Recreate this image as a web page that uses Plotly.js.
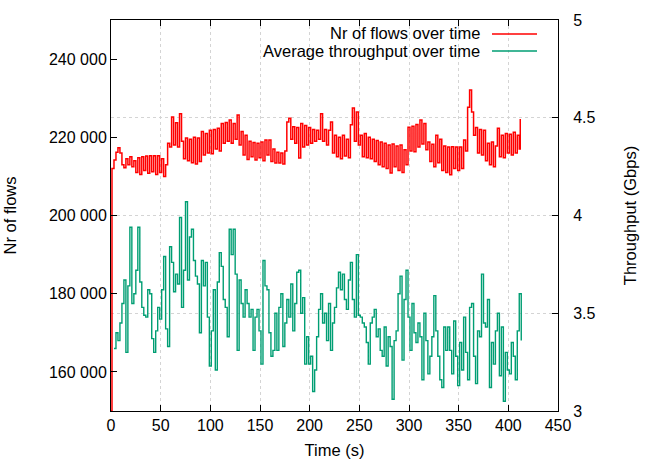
<!DOCTYPE html>
<html>
<head>
<meta charset="utf-8">
<script src="https://cdn.plot.ly/plotly-3.0.1.min.js"></script>
<style>html,body{margin:0;padding:0;background:#fff;}#chart{width:664px;height:465px;}</style>
</head>
<body>
<div id="chart"></div>
<script>
// Nr of flows: first sample at t=0, then one sample every 2 s from t=1 to t=411, last sample at t=412
const flowsStart = 150000;
const flows = [
212000,214200,216200,217300,216000,213000,212200,214500,213000,215000,
212500,214000,211000,214800,210500,215000,211500,215200,210800,215300,
211200,215300,210500,215300,211000,214500,210000,213000,218500,217500,
225200,218000,223700,217500,226000,219000,214500,219800,214000,219500,
213500,220000,213200,219800,213800,221500,215500,221000,216000,221800,
215800,222000,217000,222300,216500,223500,218500,223800,219000,224400,
218500,223500,219500,225700,218000,221500,215500,220500,214300,219000,
215000,218700,214200,218500,214800,218800,214000,219300,215500,219300,
213800,217000,213400,216200,213400,216000,213200,216500,223900,224900,
219500,222700,218500,222500,214700,223500,217500,223000,218000,222500,
218500,222000,219000,221800,219500,226000,219000,222000,218000,221800,
223900,216000,220500,215000,220000,214500,220500,215200,219500,214800,
223200,227500,219000,226500,218000,220500,215000,221000,214800,220000,
214500,219500,213800,219200,213000,218800,212500,218500,212000,218000,
210900,218300,212500,217800,211500,218000,211000,216800,213000,222600,
216500,222800,216300,223300,217500,224400,218300,223500,216800,218800,
213800,218200,212500,220500,213500,219500,211500,217800,211000,217500,
210400,217600,212000,217500,211500,217500,212000,219300,216500,227700,
232100,226500,220500,222500,216000,222000,215500,221800,214000,218500,
213000,218800,212500,217800,222300,215000,220500,214800,221000,216000,
220800,215500,221300,216000,220500,217000
];
const flowsEnd = 224700;
const flowsFirstT = 1, flowsStepT = 2, flowsEndT = 412;

// Average throughput (Gbps): one sample every 2 s from t=3 to t=413
const tput = [
3.32,3.40,3.36,3.45,3.55,3.67,3.30,3.64,3.94,3.55,
3.60,3.72,3.94,3.66,3.53,3.49,3.48,3.62,3.60,3.37,
3.30,3.41,3.53,3.47,3.62,3.79,3.42,3.33,3.84,3.76,
3.61,3.70,3.65,3.99,3.53,3.72,4.07,3.67,3.89,3.93,
3.77,3.69,3.65,3.40,3.77,3.64,3.76,3.48,3.23,3.41,
3.62,3.21,3.66,3.81,3.74,3.57,3.53,3.38,3.93,3.80,
3.93,3.70,3.31,3.67,3.55,3.48,3.62,3.55,3.48,3.52,
3.31,3.48,3.52,3.41,3.24,3.77,3.64,3.62,3.40,3.28,
3.31,3.50,3.31,3.53,3.60,3.33,3.45,3.57,3.48,3.65,
3.41,3.55,3.71,3.72,3.50,3.58,3.24,3.38,3.24,3.28,
3.10,3.21,3.38,3.52,3.60,3.45,3.50,3.36,3.55,3.31,
3.45,3.53,3.63,3.71,3.62,3.70,3.57,3.52,3.67,3.76,
3.57,3.48,3.80,3.49,3.48,3.45,3.43,3.35,3.24,3.45,
3.48,3.52,3.38,3.42,3.31,3.28,3.43,3.23,3.38,3.33,
3.06,3.36,3.41,3.60,3.69,3.26,3.57,3.72,3.48,3.31,
3.55,3.40,3.35,3.45,3.38,3.16,3.50,3.36,3.19,3.28,
3.38,3.59,3.41,3.28,3.16,3.12,3.43,3.31,3.43,3.31,
3.19,3.46,3.28,3.13,3.35,3.21,3.48,3.30,3.16,3.53,
3.55,3.28,3.14,3.41,3.38,3.70,3.45,3.43,3.57,3.12,
3.35,3.24,3.41,3.50,3.18,3.43,3.05,3.30,3.21,3.19,
3.35,3.28,3.16,3.41,3.60,3.36
];
const tputFirstT = 3, tputStepT = 2;

const legendNames = ["Nr of flows over time", "Average throughput over time"];
const colors = ["#ff0000", "#009e73"];

const flowsX = [0].concat(flows.map((v, i) => flowsFirstT + i * flowsStepT)).concat([flowsEndT]);
const flowsY = [flowsStart].concat(flows).concat([flowsEnd]);
const tputX = tput.map((v, i) => tputFirstT + i * tputStepT);

const FONT = "Liberation Sans, Arial, Helvetica, sans-serif";
const L = 111, R = 558, T = 20, B = 411, W = 664, H = 465;
const TICK = 16, TXT = 16.5;

const traces = [
  {x: flowsX, y: flowsY, type: "scatter", mode: "lines", name: legendNames[0],
   line: {color: colors[0], width: 1.5, shape: "hv"}, yaxis: "y", hoverinfo: "skip"},
  {x: tputX, y: tput, type: "scatter", mode: "lines", name: legendNames[1],
   line: {color: colors[1], width: 1.4, shape: "hv"}, yaxis: "y2", hoverinfo: "skip"}
];

const px = v => (v - L) / (R - L);
const py = v => 1 - (v - T) / (B - T);

const layout = {
  width: W, height: H,
  margin: {l: L, r: W - R, t: T, b: H - B, pad: 0},
  paper_bgcolor: "#fff", plot_bgcolor: "#fff",
  showlegend: false,
  separators: ". ",
  font: {family: FONT, size: TICK, color: "#000"},
  xaxis: {
    range: [0, 450], dtick: 50, tick0: 0,
    ticks: "inside", ticklen: 6, tickcolor: "#000", tickwidth: 1,
    showline: true, linecolor: "#000", linewidth: 1, mirror: "ticks",
    showgrid: true, gridcolor: "#d4d4d4", griddash: "dot", gridwidth: 1,
    zeroline: false,
    title: {text: "Time (s)", font: {size: TXT}, standoff: 11},
    tickfont: {size: TICK}
  },
  yaxis: {
    range: [150000, 250000], dtick: 20000, tick0: 0, tickformat: ",d",
    ticks: "inside", ticklen: 6, tickcolor: "#000",
    showline: true, linecolor: "#000", linewidth: 1, mirror: false,
    showgrid: false, zeroline: false,
    title: {text: "Nr of flows", font: {size: TXT}, standoff: 28},
    tickfont: {size: TICK}
  },
  yaxis2: {
    range: [3, 5], dtick: 0.5, tick0: 3,
    overlaying: "y", side: "right",
    ticks: "inside", ticklen: 6, tickcolor: "#000",
    showline: true, linecolor: "#000", linewidth: 1,
    showgrid: true, gridcolor: "#d4d4d4", griddash: "dot", gridwidth: 1,
    zeroline: false,
    ticklabelstandoff: 11,
    title: {text: "Throughput (Gbps)", font: {size: TXT}, standoff: 29},
    tickfont: {size: TICK}
  },
  annotations: [
    {xref: "paper", yref: "paper", x: px(482), y: py(33), xanchor: "right", yanchor: "middle",
     text: legendNames[0], showarrow: false, font: {size: TXT}},
    {xref: "paper", yref: "paper", x: px(482), y: py(51), xanchor: "right", yanchor: "middle",
     text: legendNames[1], showarrow: false, font: {size: TXT}}
  ],
  shapes: [
    {type: "line", xref: "paper", yref: "paper", x0: px(492), x1: px(537), y0: py(34), y1: py(34),
     line: {color: colors[0], width: 1.3}},
    {type: "line", xref: "paper", yref: "paper", x0: px(492), x1: px(537), y0: py(51), y1: py(51),
     line: {color: colors[1], width: 1.3}}
  ]
};

Plotly.newPlot("chart", traces, layout, {staticPlot: true, displayModeBar: false});
</script>
</body>
</html>
